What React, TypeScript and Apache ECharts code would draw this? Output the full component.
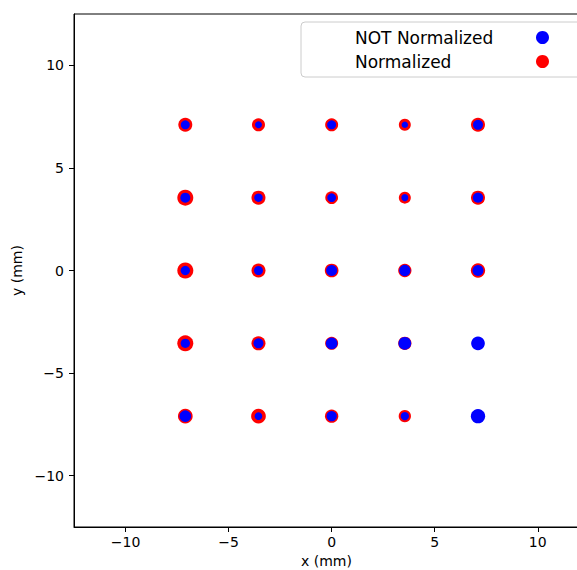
import React, { useEffect, useRef } from "react";
import * as echarts from "echarts";

// grid positions (mm)
const gridX = [-7.1, -3.55, 0, 3.55, 7.1];
const gridY = [7.1, 3.55, 0, -3.55, -7.1];

// marker diameters (px), row by row (y from top), columns left to right
const notNormalizedSizes = [
  [9, 7, 9, 6.5, 10],
  [10, 8.5, 8.7, 7, 10.3],
  [9.3, 9, 11, 11.3, 11],
  [9.3, 10, 11.7, 12.7, 13.7],
  [11.7, 7.7, 10.3, 8.3, 14.3],
];
const normalizedSizes = [
  [14, 13, 13, 12, 14],
  [16, 14, 12.7, 12, 14],
  [16, 14, 13.7, 13.3, 14.3],
  [16, 14, 13, 13.3, 12],
  [14.7, 14.7, 13.3, 12.3, 12],
];

const tickValues = [-10, -5, 0, 5, 10];
const legendNames = ["NOT Normalized", "Normalized"];

const FONT = "DejaVu Sans";

function buildPoints(sizes: number[][]) {
  const pts: number[][] = [];
  gridY.forEach((y, r) => {
    gridX.forEach((x, c) => {
      pts.push([x, y, sizes[r][c]]);
    });
  });
  return pts;
}

const fmt = (v: number) => (v < 0 ? "\u2212" + Math.abs(v) : String(v));

export default function App() {
  const ref = useRef<HTMLDivElement>(null);
  useEffect(() => {
    if (!ref.current) return;
    const chart = echarts.init(ref.current, null, { renderer: "svg" });
    chart.setOption({
      animation: false,
      backgroundColor: "#ffffff",
      textStyle: { fontFamily: FONT },
      grid: {
        left: 74,
        top: 14,
        width: 505,
        height: 513,
        containLabel: false,
        outerBoundsMode: "none",
        show: true,
        borderColor: "#000000",
        borderWidth: 1,
        backgroundColor: "transparent",
      },
      legend: {
        data: legendNames,
        orient: "vertical",
        align: "right",
        left: 301,
        top: 22,
        padding: [7, 40, 7, 54],
        itemGap: 7,
        itemWidth: 13,
        itemHeight: 13,
        icon: "circle",
        backgroundColor: "rgba(255,255,255,0.8)",
        borderColor: "#cccccc",
        borderWidth: 1,
        borderRadius: 4,
        formatter: (name: string) => "{n|" + name + "}",
        textStyle: {
          fontFamily: FONT,
          fontSize: 17,
          color: "#000000",
          rich: {
            n: { width: 176, align: "left", fontFamily: FONT, fontSize: 17, color: "#000000" },
          },
        },
      },
      xAxis: {
        type: "value",
        min: -12.5,
        max: 12,
        name: "x (mm)",
        nameLocation: "middle",
        nameGap: 25,
        nameTextStyle: { fontFamily: FONT, fontSize: 14, color: "#000000" },
        axisLine: { show: true, onZero: false, lineStyle: { color: "#000000", width: 1 } },
        axisTick: { show: true, inside: false, length: 5, customValues: tickValues, lineStyle: { color: "#000000" } },
        axisLabel: { customValues: tickValues, formatter: fmt, fontFamily: FONT, fontSize: 14, color: "#000000", margin: 8 },
        splitLine: { show: false },
      },
      yAxis: {
        type: "value",
        min: -12.5,
        max: 12.5,
        name: "y (mm)",
        nameLocation: "middle",
        nameGap: 38,
        nameTextStyle: { fontFamily: FONT, fontSize: 14, color: "#000000" },
        axisLine: { show: true, onZero: false, lineStyle: { color: "#000000", width: 1 } },
        axisTick: { show: true, inside: false, length: 5, customValues: tickValues, lineStyle: { color: "#000000" } },
        axisLabel: { customValues: tickValues, formatter: fmt, fontFamily: FONT, fontSize: 14, color: "#000000", margin: 10 },
        splitLine: { show: false },
      },
      series: [
        {
          name: "Normalized",
          type: "scatter",
          data: buildPoints(normalizedSizes),
          symbolSize: (v: number[]) => v[2],
          itemStyle: { color: "#ff0000", opacity: 1 },
          z: 2,
        },
        {
          name: "NOT Normalized",
          type: "scatter",
          data: buildPoints(notNormalizedSizes),
          symbolSize: (v: number[]) => v[2],
          itemStyle: { color: "#0000ff", opacity: 1 },
          z: 3,
        },
      ],
    });
    return () => chart.dispose();
  }, []);
  return (
    <div style={{ position: "absolute", left: 0, top: 0, width: 577, height: 570, overflow: "hidden", background: "#fff" }}>
      <div ref={ref} style={{ width: 580, height: 570 }} />
    </div>
  );
}
